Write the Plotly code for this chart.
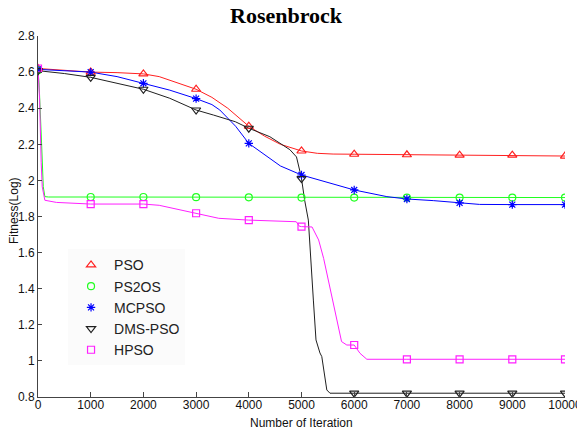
import plotly.graph_objects as go

# Iteration grid used for the markers (every 1000 iterations)
marker_iters = [0, 1000, 2000, 3000, 4000, 5000, 6000, 7000, 8000, 9000, 10000]

# PSO
pso_x = [0, 500, 1000, 1500, 2000, 2300, 2600, 3000, 3300, 3600, 4000, 4300, 4600,
         5000, 5300, 5600, 6000, 7000, 8000, 8500, 9000, 10000]
pso_y = [2.62, 2.61, 2.60, 2.597, 2.59, 2.575, 2.545, 2.505, 2.46, 2.40, 2.30, 2.245, 2.20,
         2.163, 2.15, 2.146, 2.145, 2.142, 2.14, 2.14, 2.14, 2.135]
pso_m = [2.62, 2.60, 2.59, 2.505, 2.30, 2.163, 2.145, 2.142, 2.14, 2.14, 2.135]

# PS2OS
ps2os_x = [0, 20, 70, 100, 130, 200, 1000, 2000, 3000, 4000, 5000, 6000, 7000, 8000, 9000, 10000]
ps2os_y = [2.61, 2.54, 2.19, 1.965, 1.91, 1.908, 1.908, 1.908, 1.907, 1.906, 1.905, 1.905,
           1.905, 1.905, 1.905, 1.905]
ps2os_m = [2.61, 1.908, 1.908, 1.907, 1.906, 1.905, 1.905, 1.905, 1.905, 1.905, 1.905]

# MCPSO
mcpso_x = [0, 500, 1000, 1500, 2000, 2500, 3000, 3300, 3450, 3750, 4000, 4300, 4600, 5000,
           5500, 6000, 6620, 7000, 7500, 8000, 8380, 9000, 10000]
mcpso_y = [2.615, 2.607, 2.60, 2.575, 2.538, 2.50, 2.453, 2.42, 2.39, 2.30, 2.205, 2.14, 2.08,
           2.03, 1.99, 1.947, 1.91, 1.897, 1.888, 1.875, 1.867, 1.866, 1.866]
mcpso_m = [2.615, 2.60, 2.538, 2.453, 2.205, 2.03, 1.947, 1.897, 1.875, 1.866, 1.866]

# DMS-PSO
dms_x = [0, 500, 1000, 1500, 2000, 2500, 3000, 3330, 3745, 4000, 4400, 4780, 4905, 4970,
         5000, 5060, 5130, 5225, 5275, 5350, 5385, 5480, 5540, 6000, 7000, 8000, 9000, 10000]
dms_y = [2.608, 2.592, 2.571, 2.54, 2.505, 2.455, 2.39, 2.362, 2.325, 2.289, 2.242, 2.17,
         2.13, 2.05, 2.01, 1.89, 1.78, 1.337, 1.116, 1.044, 1.024, 0.839, 0.821, 0.821,
         0.821, 0.821, 0.821, 0.821]
dms_m = [2.608, 2.571, 2.505, 2.39, 2.289, 2.01, 0.821, 0.821, 0.821, 0.821, 0.821]

# HPSO
hpso_x = [0, 30, 60, 80, 130, 350, 1000, 2000, 2300, 2570, 3000, 3430, 4000, 4500, 4900,
          4960, 5000, 5200, 5325, 5420, 5540, 5760, 5860, 6000, 6110, 6240, 7000, 8000,
          9000, 10000]
hpso_y = [2.62, 2.45, 2.10, 1.965, 1.89, 1.878, 1.869, 1.869, 1.862, 1.845, 1.818, 1.79,
          1.78, 1.776, 1.771, 1.746, 1.744, 1.742, 1.67, 1.568, 1.411, 1.107, 1.088, 1.088,
          1.042, 1.009, 1.009, 1.009, 1.009, 1.009]
hpso_m = [2.62, 1.869, 1.869, 1.818, 1.78, 1.744, 1.088, 1.009, 1.009, 1.009, 1.009]

x_tick_vals = [0, 1000, 2000, 3000, 4000, 5000, 6000, 7000, 8000, 9000, 10000]
x_tick_text = ["0", "1000", "2000", "3000", "4000", "5000", "6000", "7000", "8000", "9000", "10000"]
y_tick_vals = [0.8, 1.0, 1.2, 1.4, 1.6, 1.8, 2.0, 2.2, 2.4, 2.6, 2.8]
y_tick_text = ["0.8", "1", "1.2", "1.4", "1.6", "1.8", "2", "2.2", "2.4", "2.6", "2.8"]

series = [
    ("PSO", pso_x, pso_y, pso_m, "#ff2020", "triangle-up-open", 8),
    ("PS2OS", ps2os_x, ps2os_y, ps2os_m, "#20ff20", "circle-open", 7),
    ("MCPSO", mcpso_x, mcpso_y, mcpso_m, "#0000ff", "asterisk-open", 7),
    ("DMS-PSO", dms_x, dms_y, dms_m, "#202020", "triangle-down-open", 8),
    ("HPSO", hpso_x, hpso_y, hpso_m, "#ff20ff", "square-open", 7),
]

fig = go.Figure()
for name, xs, ys, ms, color, symbol, size in series:
    fig.add_trace(go.Scatter(
        x=xs, y=ys, mode="lines", showlegend=False, hoverinfo="skip",
        line=dict(color=color, width=1)))
for name, xs, ys, ms, color, symbol, size in series:
    fig.add_trace(go.Scatter(
        x=marker_iters, y=ms, mode="markers", name=name,
        marker=dict(symbol=symbol, size=size, color=color,
                    line=dict(color=color, width=1.2))))

sans = "Liberation Sans, Arial"
tick_font = dict(family=sans, size=12, color="#111")

fig.update_layout(
    width=577, height=430,
    margin=dict(l=38, r=12, t=36, b=33),
    paper_bgcolor="white", plot_bgcolor="white",
    showlegend=True,
    legend=dict(x=0.057, y=0.409, xanchor="left", yanchor="top",
                bgcolor="#fbfbfb", borderwidth=0, itemwidth=36,
                font=dict(family=sans, size=14, color="#222"),
                tracegroupgap=0),
    xaxis=dict(range=[0, 10000], tickvals=x_tick_vals, ticktext=x_tick_text,
               showgrid=False, zeroline=False, showline=True, linecolor="#444",
               linewidth=1, ticks="inside", ticklen=5, tickcolor="#444",
               tickfont=tick_font, ticklabeloverflow="allow", automargin=False,
               ticklabelstandoff=-3),
    yaxis=dict(range=[0.8, 2.8], tickvals=y_tick_vals, ticktext=y_tick_text,
               showgrid=False, zeroline=False, showline=True, linecolor="#444",
               linewidth=1, ticks="inside", ticklen=4, tickcolor="#444",
               tickfont=tick_font, automargin=False),
    annotations=[
        dict(text="Rosenbrock", xref="paper", yref="paper", x=0.4715, y=1.058,
             xanchor="center", yanchor="middle", showarrow=False,
             font=dict(family="Liberation Serif, Times New Roman", size=22,
                       color="black", weight="bold")),
        dict(text="Number of Iteration", xref="paper", yref="paper", x=0.5, y=-0.072,
             xanchor="center", yanchor="middle", showarrow=False,
             font=dict(family=sans, size=12, color="#111")),
        dict(text="Fitness(Log)", xref="paper", yref="paper", x=-0.0455, y=0.515,
             xanchor="center", yanchor="middle", textangle=-90, showarrow=False,
             font=dict(family=sans, size=12, color="#111")),
    ],
)

fig.write_html("out.html")
